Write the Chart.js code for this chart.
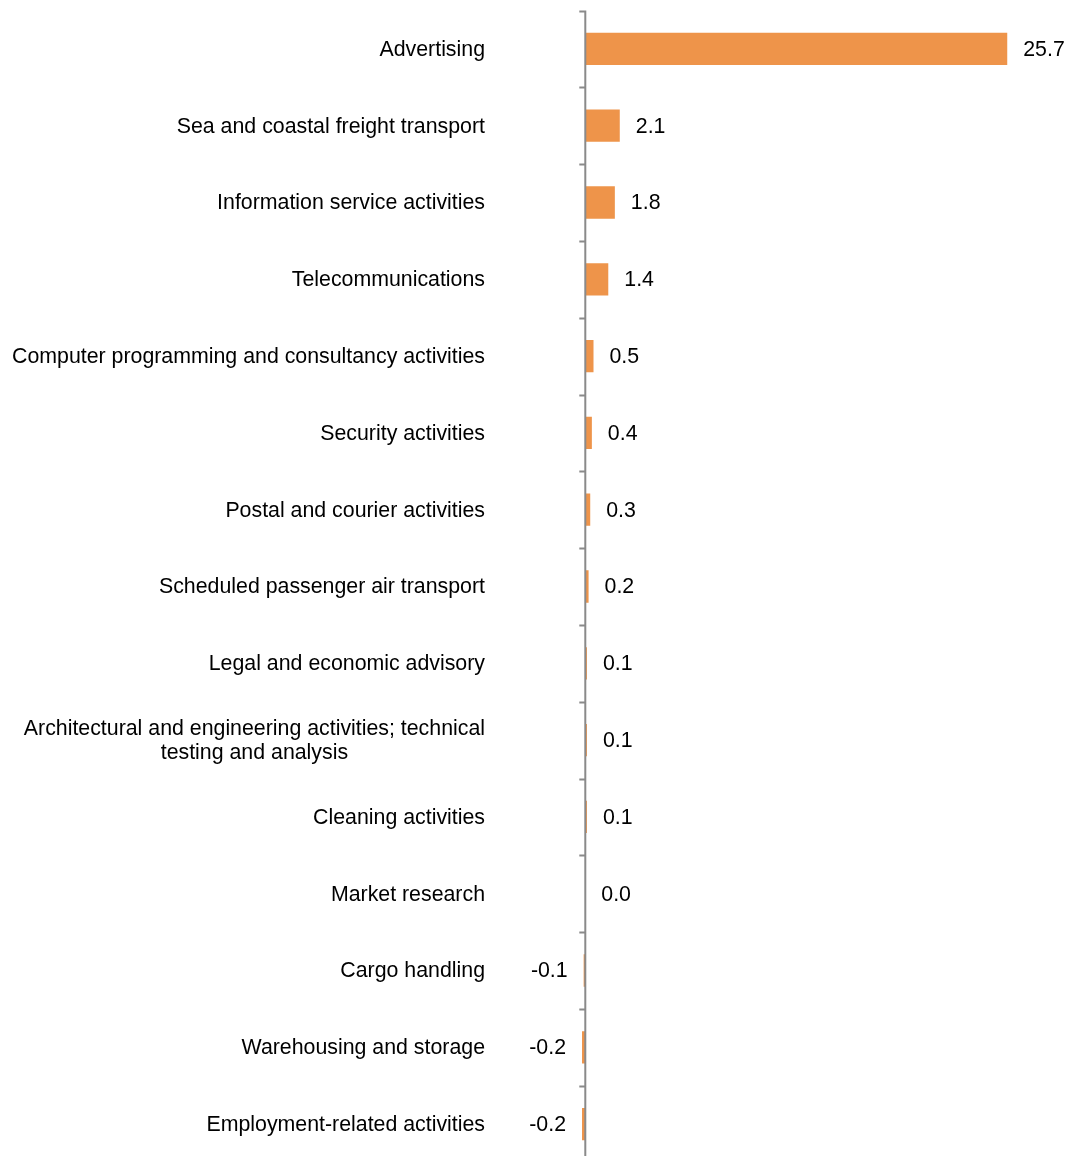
<!DOCTYPE html>
<html lang="en">
<head>
  <meta charset="UTF-8" />
  <title>Growth by activity</title>
  <script src="https://cdn.jsdelivr.net/npm/chart.js"></script>
  <style>
    html, body { margin: 0; padding: 0; background: #fff; overflow: hidden; }
  </style>
</head>
<body>
  <canvas id="grafico" width="1065" height="1170"></canvas>

  <script>
    const categorias = [
      'Advertising',
      'Sea and coastal freight transport',
      'Information service activities',
      'Telecommunications',
      'Computer programming and consultancy activities',
      'Security activities',
      'Postal and courier activities',
      'Scheduled passenger air transport',
      'Legal and economic advisory',
      ['Architectural and engineering activities; technical', 'testing and analysis'],
      'Cleaning activities',
      'Market research',
      'Cargo handling',
      'Warehousing and storage',
      'Employment-related activities'
    ];
    const valores = [25.7, 2.1, 1.8, 1.4, 0.5, 0.4, 0.3, 0.2, 0.1, 0.1, 0.1, 0.0, -0.1, -0.2, -0.2];

    const fonte = '21.33px "Liberation Sans", Arial, sans-serif';

    // eixo vertical no zero, rótulos das categorias e dos valores
    const desenhoExtra = {
      id: 'desenhoExtra',
      afterDatasetsDraw(chart) {
        const ctx = chart.ctx;
        const area = chart.chartArea;
        const x = chart.scales.x;
        const y = chart.scales.y;
        const x0 = x.getPixelForValue(0);
        const faixa = (area.bottom - area.top) / categorias.length;

        ctx.save();
        ctx.strokeStyle = '#8a8a8a';
        ctx.lineWidth = 2;
        ctx.beginPath();
        ctx.moveTo(x0, area.top);
        ctx.lineTo(x0, area.bottom);
        for (let i = 0; i <= categorias.length; i++) {
          const yy = Math.round(area.top + i * faixa) + 0.5;
          ctx.moveTo(x0 - 6, yy);
          ctx.lineTo(x0, yy);
        }
        ctx.stroke();

        ctx.font = fonte;
        ctx.fillStyle = '#000';
        ctx.textBaseline = 'middle';

        // rótulos das categorias
        const direita = area.left - 10;
        categorias.forEach((cat, i) => {
          const linhas = Array.isArray(cat) ? cat : [cat];
          const larguras = linhas.map(l => ctx.measureText(l).width);
          const maior = Math.max(...larguras);
          const yc = y.getPixelForValue(i) + 1;
          const alt = 24;
          linhas.forEach((l, j) => {
            const yy = yc + (j - (linhas.length - 1) / 2) * alt;
            ctx.textAlign = 'center';
            ctx.fillText(l, direita - maior / 2, yy);
          });
        });

        // rótulos dos valores
        valores.forEach((v, i) => {
          const yc = y.getPixelForValue(i) + 1;
          const xv = x.getPixelForValue(v);
          if (v < 0) {
            ctx.textAlign = 'right';
            ctx.fillText(v.toFixed(1), xv - 16, yc);
          } else {
            ctx.textAlign = 'left';
            ctx.fillText(v.toFixed(1), xv + 16, yc);
          }
        });
        ctx.restore();
      }
    };

    const ctx = document.getElementById('grafico').getContext('2d');
    new Chart(ctx, {
      type: 'bar',
      data: {
        labels: categorias,
        datasets: [{
          data: valores,
          backgroundColor: '#EE944A',
          borderWidth: 0,
          categoryPercentage: 1,
          barPercentage: 0.42
        }]
      },
      options: {
        indexAxis: 'y',
        responsive: false,
        animation: false,
        layout: {
          padding: { left: 495, right: 20, top: 10.5, bottom: 7.5 }
        },
        plugins: {
          legend: { display: false },
          tooltip: { enabled: false }
        },
        scales: {
          x: { display: false, min: -5.5, max: 28 },
          y: { display: false }
        }
      },
      plugins: [desenhoExtra]
    });
  </script>
</body>
</html>
